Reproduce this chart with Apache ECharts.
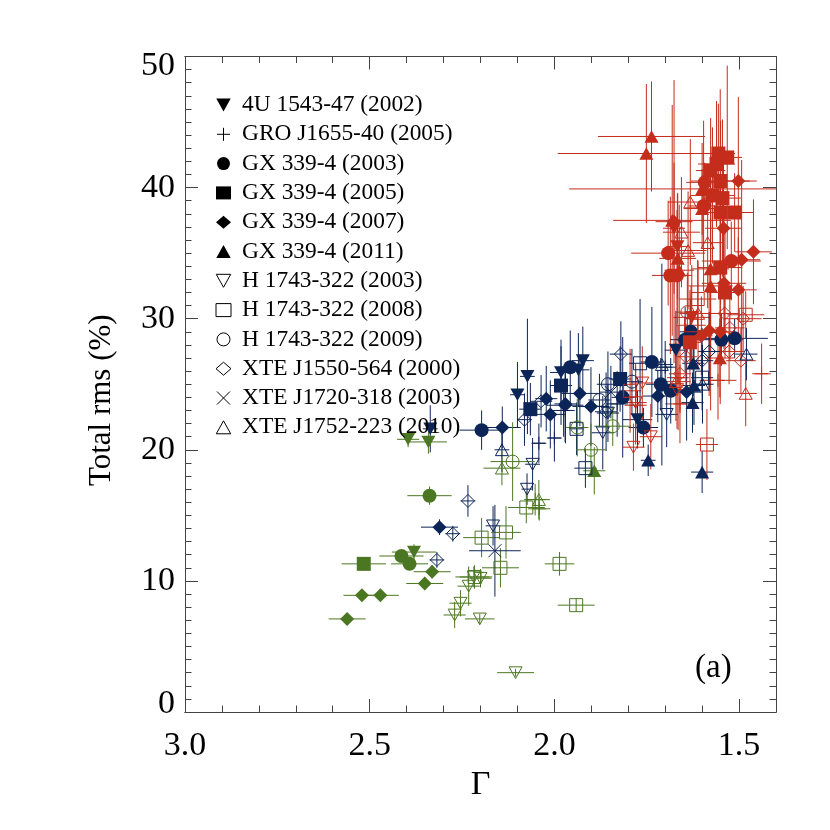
<!DOCTYPE html>
<html>
<head>
<meta charset="utf-8">
<title>Total rms vs Gamma</title>
<script src="https://cdn.jsdelivr.net/npm/echarts@6/dist/echarts.min.js"></script>
<style>
html,body{margin:0;padding:0;background:#fff}
#chart{width:830px;height:830px}
</style>
</head>
<body>
<div id="chart"></div>
<script>
// each point: [gamma, rms, gamma error, rms error]
var u1543Red = [[1.676,36.9,0.03,5],[1.667,35.5,0.03,4],[1.628,30.1,0.05,4]];
var u1543Navy = [[1.923,26.8,0.03,2.6],[1.935,26.1,0.03,2.8],[1.982,25.9,0.03,2.5],[1.775,22.3,0.04,2.2],[1.671,27.6,0.03,3],[2.073,25.6,0.02,4.4],[2.1,24.2,0.02,2.5],[2.336,21.6,0.02,1.8]];
var u1543Green = [[2.38,12.2,0.06,0.6],[2.396,20.8,0.03,0.6],[2.341,20.6,0.05,0.9]];

var groRed = [[1.439,25.8,0.025,2.3],[1.557,25.3,0.05,3],[1.78,23.4,0.03,3],[1.665,25.5,0.03,4],[1.66,23.5,0.04,3]];
var groNavy = [[2.042,20.5,0.02,1.5],[2.0,20.9,0.02,1.8],[1.975,23.0,0.03,2],[1.83,23.5,0.03,2.5],[1.7,26.3,0.03,2]];
var groGreen = [[2.041,15.5,0.03,0.9],[2.052,16.2,0.03,1.2]];

var gx03Red = [[1.593,40.4,0.05,1.5],[1.596,38.6,0.04,6.5],[1.692,35.0,0.1,4],[1.521,34.4,0.08,3],[1.686,33.3,0.05,6],[1.668,33.3,0.04,5]];
var gx03Navy = [[1.512,28.5,0.09,1.5],[1.548,28.4,0.06,2],[1.631,29.0,0.03,2.5],[1.646,28.4,0.04,2.5],[1.736,26.7,0.03,4.2],[1.712,25.0,0.04,2],[1.685,24.5,0.04,2.5],[1.815,24.0,0.03,4.6],[1.759,21.7,0.04,1.5],[1.957,26.3,0.03,2.8],[2.197,21.5,0.06,1.5]];
var gx03Green = [[2.338,16.5,0.06,0.7],[2.414,11.9,0.06,0.5],[2.392,11.3,0.05,0.5]];

var gx05Red = [[1.556,42.6,0.04,3.8],[1.532,42.3,0.04,7],[1.561,41.8,0.05,4.8],[1.577,41.3,0.04,4],[1.551,40.5,0.08,7],[1.572,39.4,0.06,5.2],[1.545,39.2,0.05,6],[1.55,38.1,0.06,7],[1.512,38.1,0.05,3],[1.551,33.9,0.06,7],[1.538,32.0,0.05,5],[1.633,28.2,0.03,4]];
var gx05Navy = [[1.822,25.4,0.03,2.5],[1.982,24.9,0.03,3],[2.065,23.1,0.03,2]];
var gx05Green = [[2.516,11.3,0.06,0.5]];

var gx07Red = [[1.502,40.5,0.05,6.4],[1.676,37.4,0.05,10.8],[1.542,36.9,0.05,5],[1.461,35.1,0.05,4],[1.493,34.5,0.05,7.6],[1.502,32.2,0.05,4],[1.541,32.7,0.06,5],[1.551,29.0,0.04,5.5],[1.581,29.1,0.04,5],[1.602,28.7,0.03,3]];
var gx07Navy = [[1.931,24.3,0.05,2.5],[1.971,23.4,0.05,2.8],[1.901,23.3,0.05,3],[1.72,24.1,0.04,2],[1.642,24.4,0.04,3.7],[2.022,23.9,0.03,2.5],[2.011,22.7,0.04,2.6],[1.97,23.5,0.03,3],[2.141,21.7,0.05,1.6],[2.311,14.1,0.05,0.6]];
var gx07Green = [[2.331,10.7,0.05,0.5],[2.351,9.8,0.05,0.5],[2.521,8.9,0.05,0.4],[2.471,8.9,0.05,0.4],[2.561,7.1,0.05,0.3]];

var gx11Red = [[1.737,43.9,0.145,4.2],[1.751,42.6,0.24,5.3],[1.6,39.9,0.36,3.5],[1.6,38.4,0.05,3],[1.681,37.5,0.16,8.8],[1.666,34.6,0.05,5],[1.662,33.7,0.04,5],[1.577,33.8,0.05,6],[1.577,32.5,0.06,9.5],[1.552,27.0,0.04,3]];
var gx11Navy = [[1.746,19.2,0.02,1.2],[1.6,18.3,0.03,1.6],[1.626,23.6,0.03,2.3],[1.622,24.9,0.03,3],[1.624,26.6,0.03,2.5]];
var gx11Green = [[1.892,18.4,0.03,1.8]];

var h03Red = [[1.739,21.0,0.03,2.5],[1.786,20.2,0.03,1.8],[1.762,25.1,0.03,2.8],[1.78,23.6,0.03,3],[1.668,24.6,0.03,3]];
var h03Navy = [[2.059,18.9,0.02,2],[2.074,17.0,0.015,1.2],[2.166,14.2,0.02,1.5],[1.696,22.7,0.03,2.5],[1.869,21.3,0.03,2.8],[1.855,22.8,0.03,2.2]];
var h03Green = [[2.218,10.3,0.05,0.8],[2.2,10.2,0.03,0.7],[2.232,9.6,0.03,1.5],[2.254,8.3,0.03,1],[2.27,7.4,0.03,1],[2.202,7.1,0.04,0.4],[2.105,3.0,0.05,0.3]];

var h08Red = [[1.482,30.3,0.05,1.8],[1.587,20.4,0.03,2.7],[1.795,24.5,0.03,3.2],[1.612,31.5,0.05,3],[1.63,29.5,0.04,3]];
var h08Navy = [[1.768,26.6,0.03,4.9],[1.916,18.6,0.03,1.5],[1.94,21.6,0.02,2],[1.6,25.5,0.03,2.5]];
var h08Green = [[2.076,15.6,0.05,1.2],[2.197,13.3,0.05,1.5],[2.131,13.7,0.04,2],[2.146,11.0,0.05,1.5],[1.986,11.3,0.04,0.9],[1.941,8.15,0.05,0.5],[2.216,10.3,0.04,0.9]];

var h09Red = [[1.64,30.5,0.03,3]];
var h09Navy = [[1.878,23.8,0.03,2],[1.79,25.2,0.03,2.5],[1.855,25.0,0.03,2.5]];
var h09Green = [[2.113,19.1,0.06,3],[1.842,21.8,0.05,1.5],[1.901,20.0,0.04,2],[1.938,21.7,0.03,2.2]];

var x1550Red = [[1.539,30.4,0.04,2.5],[1.489,30.0,0.05,2.5],[1.525,29.3,0.04,2.5],[1.527,27.5,0.04,2.5],[1.495,26.8,0.04,2.5],[1.644,27.1,0.03,2.5],[1.66,25.8,0.03,3]];
var x1550Navy = [[1.82,27.3,0.03,2.5],[1.86,22.9,0.03,3],[2.036,23.7,0.03,2],[2.081,22.3,0.02,2],[2.234,16.1,0.02,1.2],[2.275,13.6,0.02,0.6],[2.318,11.6,0.02,0.6],[1.581,27.5,0.03,3],[1.6,26.8,0.03,2.5]];

var x1720Navy = [[2.161,12.3,0.07,3.5],[1.847,24.4,0.03,2]];

var x1752Red = [[1.632,38.9,0.06,4.8],[1.656,36.6,0.05,4.2],[1.638,35.2,0.05,4.5],[1.585,35.8,0.04,5],[1.611,30.4,0.05,4],[1.482,24.3,0.03,2.5],[1.671,25.2,0.04,3]];
var x1752Navy = [[1.709,26.5,0.03,7.7],[1.48,27.3,0.03,2],[1.599,25.0,0.03,3],[2.142,20.0,0.02,1.7]];
var x1752Green = [[2.042,16.2,0.03,1.5],[2.142,18.6,0.05,1.3]];

var gammaMajor = [1.5,2.0,2.5,3.0];
var gammaMinor = [1.6,1.7,1.8,1.9,2.1,2.2,2.3,2.4,2.6,2.7,2.8,2.9];

var RED = '#c42c1b', NAVY = '#0c2558', GREEN = '#4c7722';
var INV = 'path://M0,0L10,0L5,9Z';
var TRI = 'path://M0,9L10,9L5,0Z';
var PLUS = 'path://M5,0L5,10M0,5L10,5';
var CROSS = 'path://M0,0L10,10M0,10L10,0';

var sources = [
	{name:'4U 1543-47 (2002)', icon:INV, fill:true, red:u1543Red, navy:u1543Navy, green:u1543Green},
	{name:'GRO J1655-40 (2005)', icon:PLUS, fill:false, red:groRed, navy:groNavy, green:groGreen},
	{name:'GX 339-4 (2003)', icon:'circle', fill:true, red:gx03Red, navy:gx03Navy, green:gx03Green},
	{name:'GX 339-4 (2005)', icon:'rect', fill:true, red:gx05Red, navy:gx05Navy, green:gx05Green},
	{name:'GX 339-4 (2007)', icon:'diamond', fill:true, red:gx07Red, navy:gx07Navy, green:gx07Green},
	{name:'GX 339-4 (2011)', icon:TRI, fill:true, red:gx11Red, navy:gx11Navy, green:gx11Green},
	{name:'H 1743-322 (2003)', icon:INV, fill:false, red:h03Red, navy:h03Navy, green:h03Green},
	{name:'H 1743-322 (2008)', icon:'rect', fill:false, red:h08Red, navy:h08Navy, green:h08Green},
	{name:'H 1743-322 (2009)', icon:'circle', fill:false, red:h09Red, navy:h09Navy, green:h09Green},
	{name:'XTE J1550-564 (2000)', icon:'diamond', fill:false, red:x1550Red, navy:x1550Navy, green:[]},
	{name:'XTE J1720-318 (2003)', icon:CROSS, fill:false, red:[], navy:x1720Navy, green:[]},
	{name:'XTE J1752-223 (2010)', icon:TRI, fill:false, red:x1752Red, navy:x1752Navy, green:x1752Green}
];

function errorBars(color, data){
	return {
		type:'custom',
		data:data,
		clip:true,
		silent:true,
		renderItem:function(params, api){
			var x = api.value(0), y = api.value(1), ex = api.value(2), ey = api.value(3);
			var l = api.coord([x+ex,y]), r = api.coord([x-ex,y]);
			var b = api.coord([x,y-ey]), t = api.coord([x,y+ey]);
			var st = {stroke:color, lineWidth:1, fill:null};
			return {type:'group', children:[
				{type:'line', shape:{x1:l[0],y1:l[1],x2:r[0],y2:r[1]}, style:st},
				{type:'line', shape:{x1:b[0],y1:b[1],x2:t[0],y2:t[1]}, style:st}
			]};
		}
	};
}

function markers(src, color, data){
	return {
		type:'scatter',
		name:src.name,
		data:data,
		symbol:src.icon,
		symbolSize:src.fill ? 14 : 13,
		symbolKeepAspect:true,
		silent:true,
		itemStyle:{
			color:src.fill ? color : 'rgba(0,0,0,0)',
			borderColor:color,
			borderWidth:src.fill ? 0 : 1,
			opacity:1
		}
	};
}

var series = [];
sources.forEach(function(src){
	[[RED,src.red],[NAVY,src.navy],[GREEN,src.green]].forEach(function(p){
		if(p[1].length){
			series.push(errorBars(p[0],p[1]));
			series.push(markers(src,p[0],p[1]));
		}
	});
});

function gammaAxis(pos, values, len, labels){
	return {
		type:'value', position:pos, inverse:true, min:1.4, max:3.0,
		scale:true,
		axisLine:{show:true, onZero:false, lineStyle:{color:'#444',width:1}},
		axisTick:{show:true, inside:true, length:len, customValues:values, lineStyle:{color:'#444',width:1}},
		axisLabel:{show:labels, customValues:values, margin:17, fontFamily:'Liberation Serif', fontSize:34, color:'#000',
			formatter:function(v){return v.toFixed(1)}},
		splitLine:{show:false}
	};
}

function rmsAxis(pos, labels){
	var font = {fontFamily:'Liberation Serif', fontSize:34, color:'#000'};
	return {
		type:'value', position:pos, min:0, max:50, interval:10,
		axisLine:{show:true, onZero:false, lineStyle:{color:'#444',width:1}},
		axisTick:{show:true, inside:true, length:13, lineStyle:{color:'#444',width:1}},
		minorTick:{show:true, splitNumber:10, length:6.5, lineStyle:{color:'#444',width:1}},
		axisLabel:{show:labels, margin:10, fontFamily:'Liberation Serif', fontSize:34, color:'#000',
			// the end labels sit inside the frame in the reference
			formatter:function(v){
				if(v == 50) return '{top|50}';
				if(v == 0) return '{bot|0}';
				return '' + v;
			},
			rich:{
				top:Object.assign({padding:[20,0,0,0]},font),
				bot:Object.assign({padding:[0,0,16,0]},font)
			}
		},
		splitLine:{show:false}, minorSplitLine:{show:false}
	};
}

var xMain = gammaAxis('bottom',gammaMajor,13,true);
xMain.name = 'Γ';
xMain.nameLocation = 'middle';
xMain.nameGap = 54;
xMain.nameTextStyle = {fontFamily:'Liberation Serif', fontSize:34, color:'#000'};
var yMain = rmsAxis('left',true);
yMain.name = 'Total rms (%)';
yMain.nameLocation = 'middle';
yMain.nameGap = 68;
yMain.nameTextStyle = {fontFamily:'Liberation Serif', fontSize:31, color:'#000', padding:[0,32,0,0]};

var chart = echarts.init(document.getElementById('chart'));
chart.setOption({
	animation:false,
	backgroundColor:'#fff',
	grid:{left:185, top:56.5, width:591, height:655.5, containLabel:false},
	xAxis:[xMain, gammaAxis('bottom',gammaMinor,6.5,false), gammaAxis('top',gammaMajor,13,false), gammaAxis('top',gammaMinor,6.5,false)],
	yAxis:[yMain, rmsAxis('right',false)],
	legend:{
		orient:'vertical', left:215.5, top:93.5, padding:0,
		itemWidth:15, itemHeight:13, itemGap:6.3,
		selectedMode:false,
		symbolKeepAspect:true,
		textStyle:{fontFamily:'Liberation Serif', fontSize:23.4, color:'#000', padding:[0,0,0,6]},
		data:sources.map(function(src){
			return {name:src.name, icon:src.icon,
				itemStyle:{color:src.fill ? '#000' : 'rgba(0,0,0,0)', borderColor:'#000', borderWidth:src.fill ? 0 : 1, opacity:1}};
		})
	},
	graphic:[{type:'text', left:695, top:652, style:{text:'(a)', fontFamily:'Liberation Serif', fontSize:33, fill:'#000'}}],
	series:series
});
</script>
</body>
</html>
